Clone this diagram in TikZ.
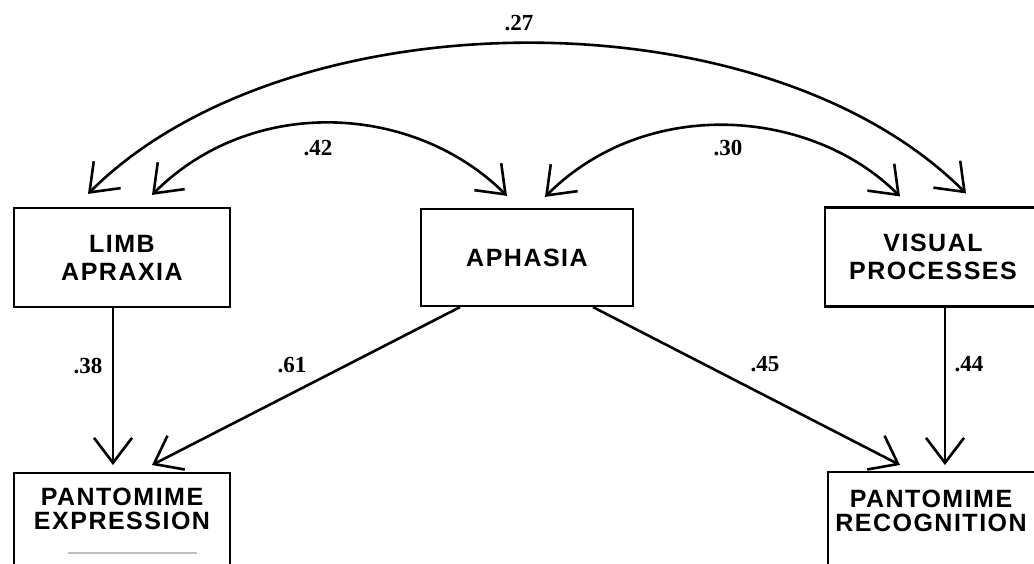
\documentclass[tikz,border=0pt]{standalone}
\usepackage{fontspec}
\usetikzlibrary{arrows.meta,calc}
\newfontfamily\boxfont{Liberation Sans}[LetterSpace=6]
\newfontfamily\numfont{Liberation Serif}
\begin{document}
\begin{tikzpicture}[x=1pt,y=-1pt,
  >={Straight Barb[length=25pt,width=38pt]},
  box/.style={draw,line width=2.2pt,minimum width=216pt,minimum height=99pt,
    inner sep=0pt,align=center,font=\boxfont\bfseries\fontsize{25}{28}\selectfont},
  boxtext/.style={align=center,inner sep=0pt,
    font=\boxfont\bfseries\fontsize{25}{24}\selectfont},
  link/.style={line width=2.6pt},
  coef/.style={font=\numfont\bfseries\fontsize{23}{23}\selectfont,inner sep=0pt}]
\useasboundingbox (0,0) rectangle (1034,563);
\clip (0,0) rectangle (1034,563);

% latent factors
\node[box] (limb) at (122,257.5) {LIMB\\APRAXIA};
\node[box,minimum width=212pt,minimum height=97pt] (aph) at (527,257.5) {APHASIA};
\node[box] (vis) at (933,257) {VISUAL\\PROCESSES};

% outcome boxes (run past the lower edge)
\node[box,anchor=north] (pe) at (122,472) {};
\node[boxtext] (pe-t) at (122,509) {PANTOMIME\\EXPRESSION};
\node[box,anchor=north,minimum width=214pt] (pr) at (935,471) {};
\node[boxtext] (pr-t) at (931,511) {PANTOMIME\\RECOGNITION};
\draw[gray!50,line width=1.5pt] (68,553) -- (197,553);

% end points of the correlation arcs
\coordinate (l-out) at ($(limb.north)+(-34,-13)$);
\coordinate (l-in)  at ($(limb.north)+(30,-12)$);
\coordinate (a-l)   at ($(aph.north)+(-20,-12)$);
\coordinate (a-r)   at ($(aph.north)+(18,-11)$);
\coordinate (v-in)  at ($(vis.north)+(-33,-10)$);
\coordinate (v-out) at ($(vis.north)+(33,-13)$);

% correlations
\draw[link,<->] (l-out) .. controls +(198,-198) and +(-203,-203) .. (v-out);
\draw[link,<->] (l-in) .. controls +(101,-101) and +(-92,-92) .. (a-l);
\draw[link,<->] (a-r) .. controls +(102,-102) and +(-88,-88) .. (v-in);
\node[coef] (c27) at (519,23) {.27};
\node[coef] (c42) at (318,148) {.42};
\node[coef] (c30) at (728,148) {.30};

% paths
\draw[link,->] ($(limb.south)+(-9,0)$) -- ($(pe.north)+(-9,-7)$);
\draw[link,->] ($(aph.south)+(-67,0)$) -- ($(pe.north)+(30,-7)$);
\draw[link,->] ($(aph.south)+(66,0)$) -- ($(pr.north)+(-35,-6)$);
\draw[link,->] ($(vis.south)+(12,0)$) -- ($(pr.north)+(10,-6)$);
\node[coef] (c38) at (88,366) {.38};
\node[coef] (c61) at (292,365) {.61};
\node[coef] (c45) at (765,364) {.45};
\node[coef] (c44) at (969,364) {.44};
\end{tikzpicture}
\end{document}
